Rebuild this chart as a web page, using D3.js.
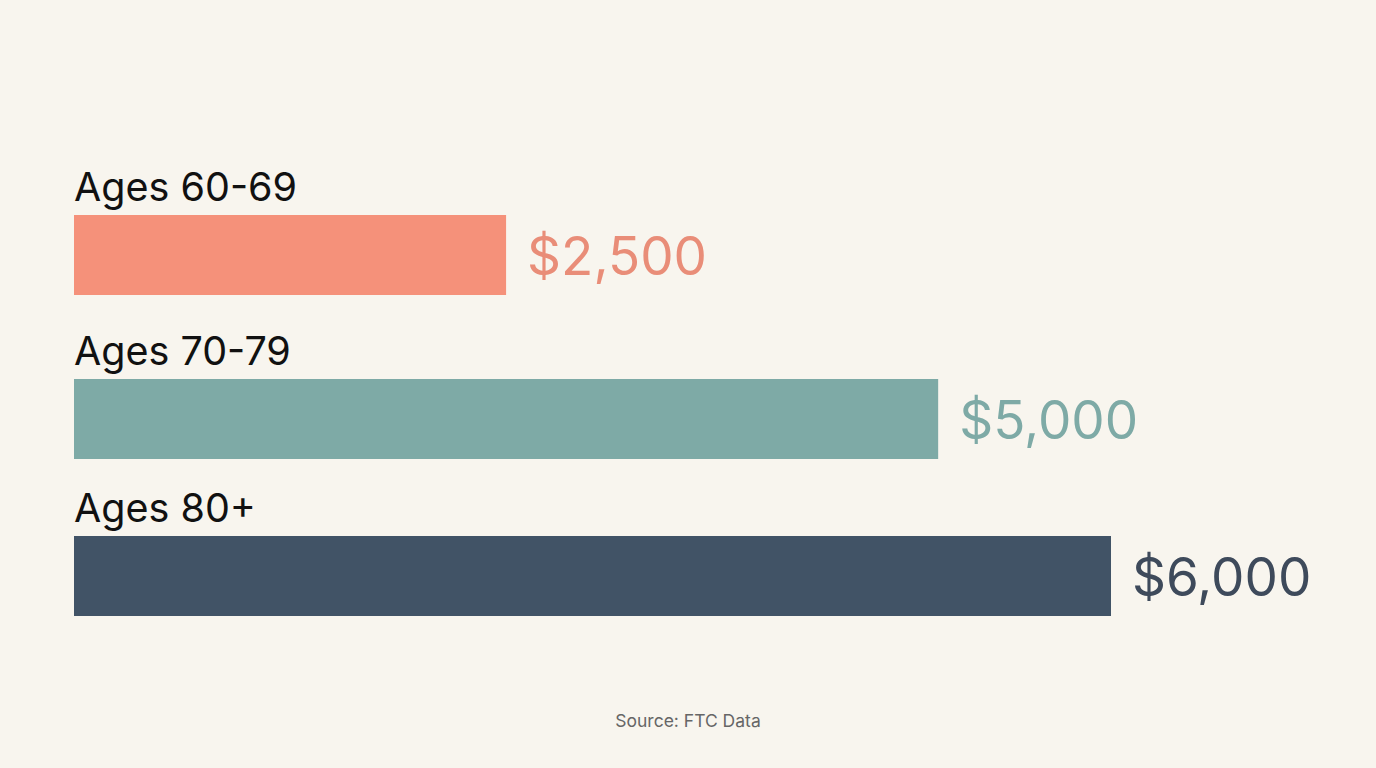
<!DOCTYPE html>
<html>
<head>
<meta charset="utf-8">
<script src="https://cdn.jsdelivr.net/npm/d3@7"></script>
<style>
  html, body { margin: 0; padding: 0; background: #f8f5ee; }
  svg { display: block; }
  text { font-family: Inter, "Noto Sans", sans-serif; }
</style>
</head>
<body>
<div class="main"></div>
<script>
// chart data
var groups = ["Ages 60-69", "Ages 70-79", "Ages 80+"];
var losses = [2500, 5000, 6000];
var barColours = ["#f5917a", "#7eaaa6", "#415366"];
var labelColours = ["#e98d78", "#7eaaa6", "#3e4a5b"];
var sourceNote = "Source: FTC Data";

var width = 1376, height = 768;
var margin = {left: 74};

var svg = d3.select(".main")
	.append("svg")
	.attr("width", width)
	.attr("height", height);

svg.append("rect")
	.attr("width", width)
	.attr("height", height)
	.style("fill", "#f8f5ee");

var xScale = d3.scaleLinear()
	.domain([0, 6000])
	.range([margin.left, 1111]);

// bar tops of the three rows
var yScale = d3.scalePoint()
	.domain(groups)
	.range([215, 536]);

var barHeight = 80;
var rows = groups.map(function(g, i) {
	return {group: g, value: losses[i], i: i};
});

// middle row sits a little lower in the original layout
function barTop(d) {
	return Math.round(yScale(d.group) + (d.i == 1 ? 3 : 0));
}

var row = svg.selectAll(".row")
	.data(rows)
	.enter()
	.append("g")
	.attr("class", "row");

row.append("rect")
	.attr("x", xScale(0))
	.attr("y", barTop)
	.attr("width", function(d) { return xScale(d.value) - xScale(0); })
	.attr("height", barHeight)
	.style("fill", function(d) { return barColours[d.i]; });

//group label above each bar
row.append("text")
	.attr("x", xScale(0))
	.attr("y", function(d) { return barTop(d) - 14; })
	.text(function(d) { return d.group; })
	.style("font-size", "39.5px")
	.style("fill", "#111");

//value label at the end of each bar
row.append("text")
	.attr("x", function(d) { return xScale(d.value) + 21; })
	.attr("y", function(d) { return barTop(d) + barHeight / 2 + 20; })
	.text(function(d) { return "$" + d3.format(",")(d.value); })
	.style("font-size", "53px")
	.style("fill", function(d) { return labelColours[d.i]; });

svg.append("text")
	.attr("x", 688)
	.attr("y", 727)
	.attr("text-anchor", "middle")
	.text(sourceNote)
	.style("font-size", "17.5px")
	.style("fill", "#666");
</script>
</body>
</html>
